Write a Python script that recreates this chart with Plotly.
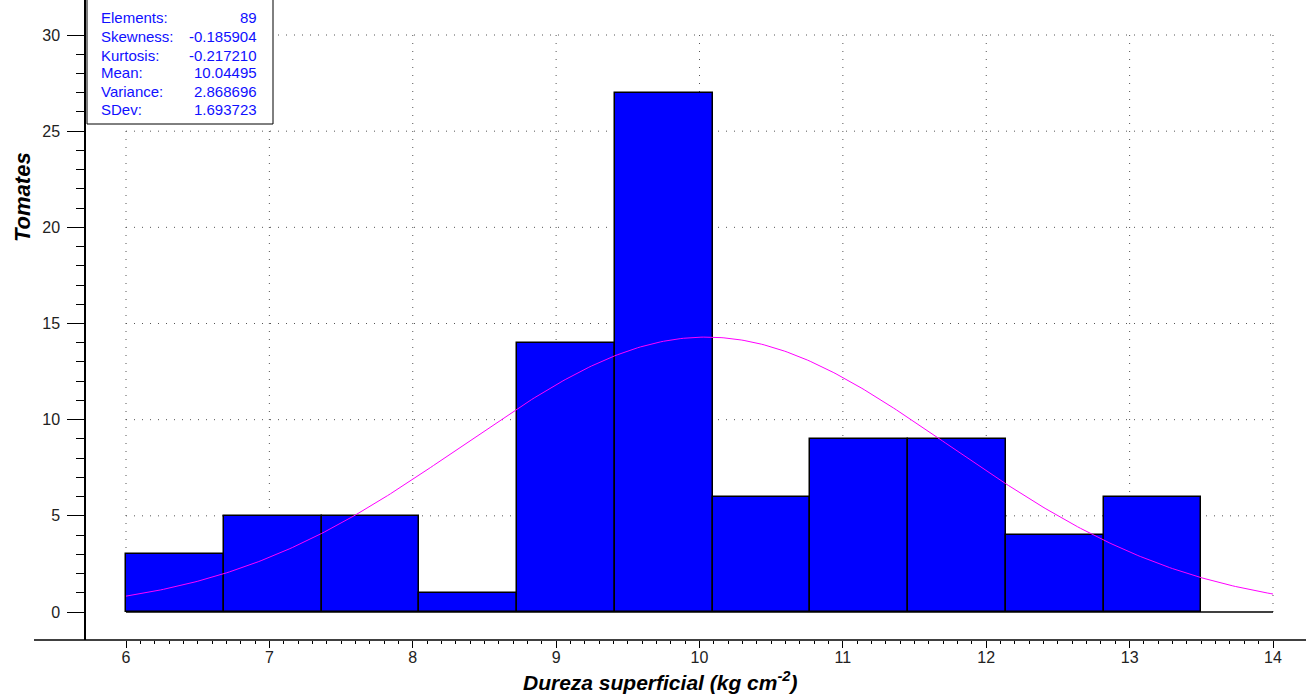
import numpy as np
import plotly.graph_objects as go

# ---- data ----
counts = [3, 5, 5, 1, 14, 27, 6, 9, 9, 4, 6]
bin_start = 6.0
bin_end = 13.5
n_elements = 89
mean_val = 10.04495
sdev_val = 1.693723
curve_range = [6.0, 14.0]
stat_labels = ["Elements:", "Skewness:", "Kurtosis:", "Mean:", "Variance:", "SDev:"]
stat_values = ["89", "-0.185904", "-0.217210", "10.04495", "2.868696", "1.693723"]
x_ticks = [6, 7, 8, 9, 10, 11, 12, 13, 14]
y_ticks = [0, 5, 10, 15, 20, 25, 30]
x_title = "<b><i>Dureza superficial (kg cm<sup>-2</sup>)</i></b>"
y_title = "<b><i>Tomates</i></b>"

# ---- derived ----
nb = len(counts)
edges = np.linspace(bin_start, bin_end, nb + 1)
bw = edges[1] - edges[0]
centers = (edges[:-1] + edges[1:]) / 2
xc = np.linspace(curve_range[0], curve_range[1], 400)
yc = n_elements * bw * np.exp(-0.5 * ((xc - mean_val) / sdev_val) ** 2) / (sdev_val * np.sqrt(2 * np.pi))

W, H = 1306, 698
L, B = 86, 58
PW, PH = W - L, H - B

def px(xp):
    return (xp - L) / PW

def py(yp):
    return (PH - yp) / PH

FONT = "Liberation Sans, Arial, sans-serif"

fig = go.Figure()
fig.add_trace(go.Bar(x=centers, y=counts, width=bw,
                     marker=dict(color="#0000ff", line=dict(color="black", width=1.5)),
                     hoverinfo="skip"))
fig.add_trace(go.Scatter(x=xc, y=yc, mode="lines",
                         line=dict(color="#ff00ff", width=1), hoverinfo="skip"))

shapes = []
dash = "1px,7px"
for xv in x_ticks:
    shapes.append(dict(type="line", xref="x", yref="y", x0=xv, x1=xv, y0=y_ticks[0], y1=y_ticks[-1],
                       line=dict(color="#555555", width=1, dash=dash), layer="below"))
for yv in y_ticks[1:]:
    shapes.append(dict(type="line", xref="x", yref="y", x0=x_ticks[0], x1=x_ticks[-1], y0=yv, y1=yv,
                       line=dict(color="#555555", width=1, dash=dash), layer="below"))
# zero baseline
shapes.append(dict(type="line", xref="x", yref="y", x0=x_ticks[0], x1=x_ticks[-1], y0=0, y1=0,
                   line=dict(color="black", width=1.5), layer="above"))
# extended x axis line
shapes.append(dict(type="line", xref="paper", yref="paper", x0=px(34), x1=1, y0=0, y1=0,
                   line=dict(color="black", width=1.5), layer="above"))
# stats box
shapes.append(dict(type="rect", xref="paper", yref="paper", x0=px(87), x1=px(273), y0=py(124), y1=py(-2),
                   fillcolor="white", line=dict(color="black", width=1), layer="above"))

annotations = []
ys = [18, 36.5, 55, 73, 91, 109.5]
for lab, val, yy in zip(stat_labels, stat_values, ys):
    annotations.append(dict(xref="paper", yref="paper", x=px(99), y=py(yy), text=lab, showarrow=False,
                            xanchor="left", yanchor="middle", font=dict(family=FONT, size=15, color="#1010ff")))
    annotations.append(dict(xref="paper", yref="paper", x=px(259), y=py(yy), text=val, showarrow=False,
                            xanchor="right", yanchor="middle", font=dict(family=FONT, size=15, color="#1010ff")))
annotations.append(dict(xref="paper", yref="paper", x=px(22), y=py(197), text=y_title, textangle=-90,
                        showarrow=False, xanchor="center", yanchor="middle",
                        font=dict(family=FONT, size=22, color="black")))
annotations.append(dict(xref="paper", yref="paper", x=px(660), y=py(681), text=x_title,
                        showarrow=False, xanchor="center", yanchor="middle",
                        font=dict(family=FONT, size=21, color="black")))

x_minor = [round(v, 1) for v in np.arange(6.1, 14.0, 0.1) if abs(v - round(v)) > 0.01]
y_minor = [v for v in range(1, 30) if v % 5 != 0]

x_lo = 6 - (126 - 86) / 143.375
x_hi = 14 + (1306 - 1273) / 143.375
y_lo = -(640 - 612) / 19.2333
y_hi = 612 / 19.2333

fig.update_layout(
    width=W, height=H,
    margin=dict(l=L, r=0, t=0, b=B, pad=0),
    plot_bgcolor="white", paper_bgcolor="white",
    showlegend=False, bargap=0,
    shapes=shapes, annotations=annotations,
    xaxis=dict(range=[x_lo, x_hi], tickvals=x_ticks, ticks="outside", ticklen=7, tickwidth=1,
               tickcolor="black", showline=False, showgrid=False, zeroline=False,
               ticklabelstandoff=-4,
               tickfont=dict(family=FONT, size=16, color="#222222"),
               minor=dict(tickvals=x_minor, ticks="outside", ticklen=3, tickwidth=1, tickcolor="black",
                          showgrid=False)),
    yaxis=dict(range=[y_lo, y_hi], tickvals=y_ticks, ticks="outside", ticklen=17, tickwidth=1,
               tickcolor="black", showline=True, linecolor="black", linewidth=1.5,
               showgrid=False, zeroline=False, ticklabelstandoff=4,
               tickfont=dict(family=FONT, size=16, color="#222222"),
               minor=dict(tickvals=y_minor, ticks="outside", ticklen=8, tickwidth=1, tickcolor="black",
                          showgrid=False)),
)

fig.write_html("out.html")
